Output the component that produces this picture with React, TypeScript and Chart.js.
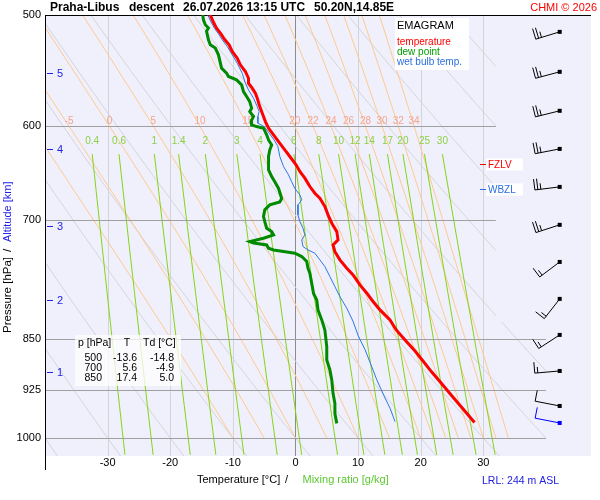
import React, { useEffect, useRef } from "react";
import { Chart, registerables } from "chart.js";

Chart.register(...registerables);

// ---------------- data ----------------
const temperaturePressure = [
  500, 506, 511, 515.6, 519.9, 525, 530.8, 536.7, 542.5, 548.5, 554.6, 559.1, 563.7, 568.3, 573, 579.3,
  587.3, 595.4, 601.9, 608.5, 615.3, 623.7, 630.5, 639.2, 646.2, 653.3, 662.3, 669.6, 675.1, 684.4, 693.8,
  703.3, 713.1, 722.8, 728.8, 737, 746.9, 757.2, 765.5, 778.2, 788.8, 797.6, 810.7, 824.1, 837.8, 851.6,
  867.3, 881.8, 896.9, 914.3, 932.4, 950.5, 975,
];
const temperatureC = [
  -13.6, -13.1, -12.6, -11.9, -11.4, -10.6, -10.1, -9.3, -8.8, -8.0, -7.5, -7.5, -6.9, -6.4, -6.1, -5.8,
  -5.3, -4.8, -4.3, -3.5, -2.7, -1.7, -0.9, 0.1, 0.7, 1.5, 2.3, 3.1, 3.9, 4.7, 5.2,
  5.8, 6.6, 6.8, 6.0, 6.3, 7.1, 8.2, 9.2, 10.3, 11.4, 12.2, 13.5, 15.1, 16.1, 17.5,
  19.1, 20.4, 21.7, 23.3, 24.9, 26.5, 28.6,
];

const dewPointPressure = [
  500, 504, 508, 510.7, 513.5, 520.7, 525, 527.8, 533.7, 545.5, 550, 553, 556.1, 560.6, 566.8, 571.5,
  576.3, 582.5, 585.7, 590.5, 595.4, 598.6, 600.3, 601.9, 608.5, 613.6, 618.6, 623.7, 630.5, 639.2,
  644.5, 651.6, 657.2, 664.4, 675.5, 679.3, 682.5, 688.1, 695.7, 701.5, 709.1, 713.1, 716.9, 720.8,
  724.8, 726.6, 728.8, 732.8, 734.8, 736.8, 738.8, 742.8, 748.9, 757.1, 763.5, 776.4, 789.4, 797.6,
  810.7, 824.1, 837.8, 861.4, 880, 894.5, 909.3, 929.4, 944.9, 960.8, 976.4,
];
const dewPointC = [
  -14.8, -14.7, -14.4, -13.9, -14.2, -13.9, -13.6, -12.8, -12.3, -11.8, -11.0, -10.7, -9.4, -8.6, -8.3, -7.8,
  -7.3, -7.0, -7.3, -6.7, -7.1, -7.0, -6.2, -5.1, -4.6, -4.3, -3.8, -4.1, -4.3, -4.3,
  -4.3, -3.8, -3.3, -2.7, -2.2, -2.5, -4.1, -4.9, -5.1, -4.9, -4.6, -3.8, -3.5, -5.1,
  -7.3, -6.7, -4.6, -4.3, -3.5, -1.9, -0.1, 1.0, 1.8, 2.0, 2.3, 2.6, 2.9, 3.4,
  3.6, 4.2, 4.7, 5.0, 5.0, 5.5, 5.8, 6.0, 6.3, 6.3, 6.6,
];

const wetBulbPressure = [
  500, 505.7, 511.3, 515.6, 520.7, 526.4, 533.7, 541.1, 550.1, 559.1, 565.3, 573, 581, 585.7, 590.5, 597,
  600.3, 606.9, 613.6, 620.3, 630.5, 641, 649.8, 657.2, 664.4, 671.4, 676.9, 682.5, 693.8, 701.5, 709.1,
  716.9, 722.8, 730.8, 734.8, 738.8, 746.9, 755.1, 767.6, 780.3, 793.3, 808.5, 826, 845.4, 865, 883.3,
  909.3, 936.5, 952.3, 973.6,
];
const wetBulbC = [
  -14.0, -13.5, -12.9, -12.3, -11.7, -10.9, -10.1, -9.3, -8.5, -8.0, -7.5, -6.7, -6.1, -5.8, -6.0, -6.0,
  -5.0, -4.2, -3.4, -2.8, -2.5, -1.9, -1.1, -0.6, -0.1, 0.7, 1.0, 0.4, 0.4, 0.7, 1.2,
  1.5, 1.0, 1.2, 2.0, 3.1, 3.9, 4.7, 5.5, 6.3, 7.1, 8.2, 9.2, 10.0, 11.1, 11.9,
  13.0, 14.3, 15.1, 15.9,
];

const pressureTicks = [500, 600, 700, 850, 925, 1000];
const pressureLinesShort = [600, 700];
const pressureLinesLong = [850, 925, 1000];
const temperatureTicks = [-30, -20, -10, 0, 10, 20, 30];

const dryAdiabatTheta = [-40, -30, -20, -10, 0, 10, 20, 30, 40, 50, 60, 70, 80, 90, 100];
const moistAdiabatThetaW = [-10, -5, 0, 5, 10, 15, 20, 22, 24, 26, 28, 30, 32, 34];
const mixingRatios = [0.4, 0.6, 1, 1.4, 2, 3, 4, 6, 8, 10, 12, 14, 17, 20, 25, 30];

const altitudeKm = [1, 2, 3, 4, 5];
const altitudePressure = [897.5, 797.6, 706.4, 622.7, 549.7];

const windPressure = [514, 548.8, 585, 622.7, 662.7, 705.2, 749.4, 796.2, 844.6, 896, 948.9, 975.7];
const windDirection = [253, 255, 256, 259, 263, 252, 233, 218, 237, 265, 281, 281];
const windSpeedKt = [25, 25, 25, 25, 25, 25, 15, 15, 15, 15, 10, 10];

const tableLevels = [500, 700, 850];
const tableT = [-13.6, 5.6, 17.4];
const tableTd = [-14.8, -4.9, 5.0];

const titleParts = ["Praha-Libus", "descent", "26.07.2026 13:15 UTC", "50.20N,14.85E"];

// ---------------- layout constants ----------------
const X_MIN = -40;
const X_MAX = 47.2;
const P_TOP = 500;
const P_BOTTOM = 1030;
const BARB_T = 42.2;
const CLIP_T_UPPER = 32;
const CLIP_T_LOWER = 40;
const CLIP_P = 827;
const MIX_TOP_P = 628;
const MOIST_BOTTOM_P = 1000;
const MOIST_LABEL_P = 600;

const FONT = '"Liberation Sans", Arial, sans-serif';
const BG = "#f0f0fc";

// ---------------- thermodynamics ----------------
const dryT = (thC: number, p: number) => (thC + 273.15) * Math.pow(p / 1000, 0.2857) - 273.15;
const mixT = (w: number, p: number) => {
  const e = (w * p) / (622 + w);
  const l = Math.log(e / 6.112);
  return (243.5 * l) / (17.67 - l);
};
const moistRate = (T: number, p: number) => {
  const tc = T - 273.15;
  const es = 6.112 * Math.exp((17.67 * tc) / (tc + 243.5));
  const rs = (0.622 * es) / (p - es);
  const Lv = 2.501e6;
  const Rd = 287.04;
  return (Rd * T + Lv * rs) / (1005.7 + (Lv * Lv * rs * 0.622) / (Rd * T * T)) / p;
};
const moistLine = (twC: number): [number, number][] => {
  let T = twC + 273.15;
  const pts: [number, number][] = [[twC, MOIST_BOTTOM_P]];
  const h = -5;
  for (let p = MOIST_BOTTOM_P; p > P_TOP; p += h) {
    const k1 = moistRate(T, p);
    const k2 = moistRate(T + (h / 2) * k1, p + h / 2);
    const k3 = moistRate(T + (h / 2) * k2, p + h / 2);
    const k4 = moistRate(T + h * k3, p + h);
    T += (h / 6) * (k1 + 2 * k2 + 2 * k3 + k4);
    pts.push([T - 273.15, p + h]);
  }
  return pts;
};

const zeroCrossing = (ps: number[], ts: number[]) => {
  for (let i = 0; i < ts.length - 1; i++) {
    if (ts[i] < 0 && ts[i + 1] >= 0) {
      const f = -ts[i] / (ts[i + 1] - ts[i]);
      return Math.exp(Math.log(ps[i]) + f * (Math.log(ps[i + 1]) - Math.log(ps[i])));
    }
  }
  return NaN;
};

const drawBarb = (ctx: CanvasRenderingContext2D, cx: number, cy: number, dir: number, kt: number, color: string) => {
  const r = (dir * Math.PI) / 180;
  const sx = Math.sin(r);
  const sy = -Math.cos(r);
  const L = 25;
  const tx = cx + sx * L;
  const ty = cy + sy * L;
  const nx = -sy;
  const ny = sx;
  ctx.strokeStyle = color;
  ctx.fillStyle = color;
  ctx.lineWidth = 1;
  ctx.beginPath();
  ctx.moveTo(cx, cy);
  ctx.lineTo(tx, ty);
  const full = Math.floor(kt / 10);
  const half = kt % 10 >= 5;
  let pos = 0;
  for (let i = 0; i < full; i++) {
    const bx = tx - sx * pos;
    const by = ty - sy * pos;
    ctx.moveTo(bx, by);
    ctx.lineTo(bx + nx * 11, by + ny * 11);
    pos += 3;
  }
  if (half) {
    if (full === 0) pos = 3;
    const bx = tx - sx * pos;
    const by = ty - sy * pos;
    ctx.moveTo(bx, by);
    ctx.lineTo(bx + nx * 6, by + ny * 6);
  }
  ctx.stroke();
  ctx.fillRect(cx - 2, cy - 2, 4, 4);
};

const emagramPlugin = {
  id: "emagram",
  beforeDatasetsDraw(chart: any) {
    const { ctx, chartArea: a } = chart;
    const xs = chart.scales.x;
    const ys = chart.scales.y;
    const px = (t: number) => xs.getPixelForValue(t);
    const py = (p: number) => ys.getPixelForValue(p);
    const poly = (pts: [number, number][]) => {
      ctx.beginPath();
      pts.forEach(([t, p], i) => {
        if (i === 0) ctx.moveTo(px(t), py(p));
        else ctx.lineTo(px(t), py(p));
      });
      ctx.stroke();
    };

    ctx.save();
    ctx.fillStyle = BG;
    ctx.fillRect(a.left, a.top, a.right - a.left, a.bottom - a.top);

    const xU = px(CLIP_T_UPPER);
    const xL = px(CLIP_T_LOWER);
    const yC = py(CLIP_P);

    ctx.save();
    ctx.beginPath();
    ctx.rect(a.left, a.top, xU - a.left, yC - a.top);
    ctx.rect(a.left, yC, xL - a.left, a.bottom - yC);
    ctx.clip();

    ctx.lineWidth = 1;
    // vertical temperature grid
    temperatureTicks.forEach((t) => {
      const x = Math.round(px(t)) + 0.5;
      ctx.strokeStyle = t === 0 ? "#8c8c8c" : "#d4d4d8";
      ctx.beginPath();
      ctx.moveTo(x, a.top);
      ctx.lineTo(x, a.bottom);
      ctx.stroke();
    });

    // dry adiabats
    ctx.strokeStyle = "#d4d4d8";
    dryAdiabatTheta.forEach((th) => {
      const pts: [number, number][] = [];
      for (let p = P_TOP; p <= P_BOTTOM; p += 10) pts.push([dryT(th, p), p]);
      poly(pts);
    });

    // moist adiabats
    ctx.strokeStyle = "#ffc88c";
    const moistLines = moistAdiabatThetaW.map((tw) => moistLine(tw));
    moistLines.forEach((pts) => poly(pts));

    // mixing ratio lines
    ctx.strokeStyle = "#84d414";
    mixingRatios.forEach((w) => {
      const pts: [number, number][] = [];
      for (let p = MIX_TOP_P; p <= P_BOTTOM + 1; p += 20) pts.push([mixT(w, p), p]);
      poly(pts);
    });
    ctx.restore();

    // horizontal pressure lines
    ctx.strokeStyle = "#a0a0a0";
    ctx.lineWidth = 1;
    pressureLinesShort.forEach((p) => {
      const y = Math.round(py(p)) + 0.5;
      ctx.beginPath();
      ctx.moveTo(a.left, y);
      ctx.lineTo(xU, y);
      ctx.stroke();
    });
    pressureLinesLong.forEach((p) => {
      const y = Math.round(py(p)) + 0.5;
      ctx.beginPath();
      ctx.moveTo(a.left, y);
      ctx.lineTo(xL, y);
      ctx.stroke();
    });

    // moist adiabat labels
    ctx.font = `10px ${FONT}`;
    ctx.textAlign = "center";
    ctx.textBaseline = "middle";
    ctx.fillStyle = "#f4a48c";
    moistLines.forEach((pts, i) => {
      const pt = pts.find((q) => q[1] <= MOIST_LABEL_P + 0.01);
      if (!pt) return;
      const x = px(pt[0]);
      if (x < a.left + 10) return;
      ctx.fillText(String(moistAdiabatThetaW[i]), x, py(MOIST_LABEL_P) - 5);
    });

    // mixing ratio labels
    ctx.fillStyle = "#8cd044";
    mixingRatios.forEach((w) => {
      ctx.fillText(String(w), px(mixT(w, MIX_TOP_P)), py(MIX_TOP_P) - 13);
    });

    // axes frame
    ctx.strokeStyle = "#000";
    ctx.beginPath();
    ctx.moveTo(a.left + 0.5, a.top);
    ctx.lineTo(a.left + 0.5, a.bottom + 14);
    ctx.moveTo(a.left, a.top + 0.5);
    ctx.lineTo(a.right, a.top + 0.5);
    ctx.stroke();

    // tick labels
    ctx.font = `11px ${FONT}`;
    ctx.fillStyle = "#000";
    ctx.textAlign = "right";
    pressureTicks.forEach((p) => ctx.fillText(String(p), a.left - 4, py(p)));
    ctx.textAlign = "center";
    temperatureTicks.forEach((t) => ctx.fillText(String(t), px(t), 463));

    // altitude labels
    ctx.strokeStyle = "#2020e8";
    ctx.fillStyle = "#2020e8";
    ctx.textAlign = "left";
    altitudeKm.forEach((km, i) => {
      const y = Math.round(py(altitudePressure[i])) + 0.5;
      ctx.beginPath();
      ctx.moveTo(a.left + 2, y);
      ctx.lineTo(a.left + 8, y);
      ctx.stroke();
      ctx.fillText(String(km), a.left + 12, y);
    });
    ctx.restore();
  },
  afterDatasetsDraw(chart: any) {
    const { ctx, chartArea: a } = chart;
    const xs = chart.scales.x;
    const ys = chart.scales.y;
    const py = (p: number) => ys.getPixelForValue(p);
    ctx.save();

    // wind barbs
    const bx = xs.getPixelForValue(BARB_T);
    windPressure.forEach((p, i) => {
      const last = i === windPressure.length - 1;
      drawBarb(ctx, bx, py(p), windDirection[i], windSpeedKt[i], last ? "#0000ff" : "#000");
    });

    // freezing levels
    ctx.font = `10px ${FONT}`;
    ctx.textBaseline = "middle";
    ctx.textAlign = "left";
    const levels: [string, number, string][] = [
      ["FZLV", zeroCrossing(temperaturePressure, temperatureC), "#ff0000"],
      ["WBZL", zeroCrossing(wetBulbPressure, wetBulbC), "#2a6ee0"],
    ];
    levels.forEach(([txt, p, col]) => {
      const y = Math.round(py(p)) + 0.5;
      ctx.fillStyle = "#ffffff";
      ctx.fillRect(486, y - 6, 37, 12);
      ctx.strokeStyle = col;
      ctx.beginPath();
      ctx.moveTo(480, y);
      ctx.lineTo(486, y);
      ctx.stroke();
      ctx.fillStyle = col;
      ctx.fillText(txt, 488, y + 0.5);
    });

    // legend box
    ctx.fillStyle = "#ffffff";
    ctx.fillRect(395, 18, 74, 52);
    ctx.fillStyle = "#000";
    ctx.font = `11px ${FONT}`;
    ctx.fillText("EMAGRAM", 397, 26);
    ctx.font = `10px ${FONT}`;
    ctx.fillStyle = "#ff0000";
    ctx.fillText("temperature", 397, 42.5);
    ctx.fillStyle = "#00a000";
    ctx.fillText("dew point", 397, 52.5);
    ctx.fillStyle = "#2a6ee0";
    ctx.fillText("wet bulb temp.", 397, 62);

    // table
    ctx.fillStyle = "rgba(255,255,255,0.75)";
    ctx.fillRect(75, 335, 106, 51);
    ctx.font = `10.5px ${FONT}`;
    ctx.fillStyle = "#000";
    ctx.textAlign = "left";
    ctx.fillText("p [hPa]", 78, 343.5);
    ctx.textAlign = "center";
    ctx.fillText("T", 127, 343.5);
    ctx.textAlign = "left";
    ctx.fillText("Td [°C]", 143, 343.5);
    ctx.textAlign = "right";
    tableLevels.forEach((lv, i) => {
      const y = 358.5 + i * 10;
      ctx.fillText(String(lv), 102, y);
      ctx.fillText(tableT[i].toFixed(1), 137, y);
      ctx.fillText(tableTd[i].toFixed(1), 174, y);
    });

    // title
    ctx.textAlign = "left";
    ctx.fillStyle = "#000";
    ctx.font = `bold 12px ${FONT}`;
    const titleX = [50, 129, 183, 314];
    titleParts.forEach((t, i) => ctx.fillText(t, titleX[i], 8));
    ctx.font = `11px ${FONT}`;
    ctx.fillStyle = "#ff0000";
    ctx.textAlign = "right";
    ctx.fillText("CHMI © 2026", 597, 8);

    // axis titles
    ctx.textAlign = "left";
    ctx.font = `11px ${FONT}`;
    ctx.fillStyle = "#000";
    ctx.fillText("Temperature [°C]", 197, 479.5);
    ctx.fillText("/", 285, 479.5);
    ctx.fillStyle = "#5cc832";
    ctx.fillText("Mixing ratio [g/kg]", 302.5, 479.5);
    ctx.fillStyle = "#2020e0";
    ctx.font = `10.5px ${FONT}`;
    ctx.fillText("LRL: 244 m ASL", 482, 481.5);

    ctx.save();
    ctx.translate(7.5, 333);
    ctx.rotate(-Math.PI / 2);
    ctx.font = `11.5px ${FONT}`;
    ctx.fillStyle = "#000";
    ctx.fillText("Pressure [hPa]", 0, 0);
    ctx.fillText("/", 81, 0);
    ctx.font = `11px ${FONT}`;
    ctx.fillStyle = "#2020e8";
    ctx.fillText("Altitude [km]", 91, 0);
    ctx.restore();

    ctx.restore();
  },
};

export default function App() {
  const canvasRef = useRef<HTMLCanvasElement | null>(null);

  useEffect(() => {
    if (!canvasRef.current) return;
    const toPoints = (ps: number[], ts: number[]) => ps.map((p, i) => ({ x: ts[i], y: p }));
    const chart = new Chart(canvasRef.current, {
      type: "line",
      data: {
        datasets: [
          {
            label: "temperature",
            data: toPoints(temperaturePressure, temperatureC),
            borderColor: "#ff0000",
            borderWidth: 3,
            pointRadius: 0,
            tension: 0,
          },
          {
            label: "dew point",
            data: toPoints(dewPointPressure, dewPointC),
            borderColor: "#008a00",
            borderWidth: 3,
            pointRadius: 0,
            tension: 0,
          },
          {
            label: "wet bulb temp.",
            data: toPoints(wetBulbPressure, wetBulbC),
            borderColor: "#2a78e4",
            borderWidth: 1,
            pointRadius: 0,
            tension: 0,
          },
        ],
      },
      options: {
        animation: false,
        responsive: false,
        devicePixelRatio: 1,
        events: [],
        layout: { padding: { left: 45, top: 15, right: 9, bottom: 44 } },
        scales: {
          x: { type: "linear", min: X_MIN, max: X_MAX, display: false },
          y: { type: "logarithmic", min: P_TOP, max: P_BOTTOM, reverse: true, display: false },
        },
        plugins: { legend: { display: false }, tooltip: { enabled: false } },
      },
      plugins: [emagramPlugin],
    } as any);
    return () => chart.destroy();
  }, []);

  return (
    <div style={{ position: "fixed", left: 0, top: 0, width: 600, height: 500, background: "#fff" }}>
      <canvas ref={canvasRef} width={600} height={500} style={{ display: "block", width: 600, height: 500 }} />
    </div>
  );
}
